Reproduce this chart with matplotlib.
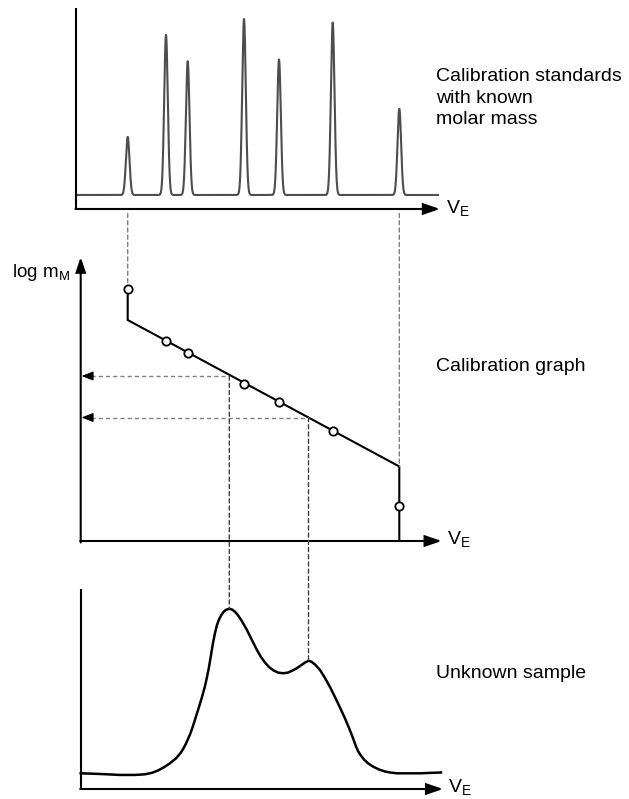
import numpy as np
import matplotlib
matplotlib.use("Agg")
import matplotlib.pyplot as plt
from matplotlib.patches import ConnectionPatch

plt.rcParams['font.family'] = ['Liberation Sans', 'DejaVu Sans']
plt.rcParams['mathtext.fontset'] = 'custom'
plt.rcParams['mathtext.rm'] = 'Liberation Sans'
plt.rcParams['mathtext.it'] = 'Liberation Sans:italic'

# ---- data -------------------------------------------------------------
# calibration standards: elution volume, relative peak height, log molar mass
std_ve = [4.70, 8.53, 10.70, 16.33, 19.83, 25.20, 31.86]
std_height = [33, 91, 76, 100, 77, 98, 49]
std_logm = [7.04, 6.00, 5.77, 5.15, 4.78, 4.20, 2.71]
peak_sigma = 0.18

# calibration graph: exclusion limit, linear range, total permeation limit
calib_ve = [4.70, 4.70, 31.86, 31.86]
calib_logm = [7.04, 6.42, 3.49, 2.00]

# elution profile of the unknown sample
sample_ve = [0.00, 1.93, 3.93, 5.43, 6.43, 7.13, 7.73, 8.33, 8.93, 9.53,
             10.03, 10.28, 10.53, 10.73, 10.93, 11.23, 11.53, 11.83, 12.13,
             12.43, 12.63, 12.83, 13.03, 13.23, 13.43, 13.63, 13.83, 14.03,
             14.28, 14.53, 14.86, 15.13, 15.43, 15.73, 16.08, 16.60, 17.10,
             17.60, 18.03, 18.43, 18.83, 19.26, 19.73, 20.26, 20.73, 21.13,
             21.60, 22.03, 22.43, 22.78, 23.08, 23.43, 23.93, 24.43, 24.93,
             25.43, 25.93, 26.43, 26.83, 27.13, 27.33, 27.53, 27.73, 27.98,
             28.33, 28.73, 29.26, 29.83, 30.43, 31.03, 31.63, 33.93, 36.03]
sample_signal = [0.0, -0.4, -1.0, -1.0, -0.6, 0.3, 1.7, 3.7, 6.1, 9.1,
                 12.7, 15.2, 18.1, 20.9, 23.6, 28.8, 34.6, 40.4, 46.4,
                 53.1, 58.6, 64.7, 72.0, 79.3, 85.4, 90.3, 93.6, 96.0,
                 98.2, 99.5, 100.2, 99.7, 98.3, 96.2, 93.0, 87.5, 81.4,
                 75.3, 70.8, 67.4, 64.7, 62.7, 61.3, 60.9, 61.3, 62.4,
                 63.9, 65.7, 67.4, 68.5, 67.9, 66.2, 62.9, 58.0, 52.5,
                 46.4, 40.0, 33.4, 27.6, 23.0, 19.7, 16.3, 13.6, 11.1,
                 8.4, 6.1, 4.0, 2.3, 1.1, 0.4, 0.0, 0.0, 0.5]

# sample peak maxima and the log molar mass
sample_peak_ve = [14.86, 22.78]
sample_peak_signal = [100.2, 68.5]
sample_peak_logm = [5.30, 4.47]

# ---- layout -----------------------------------------------------------
W, H = 629, 799
fig = plt.figure(figsize=(W / 100, H / 100), dpi=100)
XLIM = (-8.07, 54.83)


def panel(top, bottom, ylim):
    ax = fig.add_axes([0, 1 - bottom / H, 1, (bottom - top) / H])
    ax.set_xlim(*XLIM)
    ax.set_ylim(*ylim)
    ax.set_axis_off()
    return ax


def arrow(ax, start, end, lw=1.5, hl=1.0, hw=0.34):
    ax.annotate('', xy=end, xytext=start, annotation_clip=False,
                arrowprops=dict(arrowstyle=f'-|>,head_length={hl},head_width={hw}',
                                lw=lw, color='black', shrinkA=0, shrinkB=0,
                                mutation_scale=10, joinstyle='miter'))


ax_top = panel(0, 230, (-19.89, 110.80))
ax_mid = panel(235, 560, (1.62, 8.12))
ax_bot = panel(565, 799, (-15.64, 126.78))

# ---- calibration standards chromatogram -------------------------------
v = np.linspace(-0.47, 35.73, 4000)
trace = np.zeros_like(v)
for c, h in zip(std_ve, std_height):
    trace += h * np.exp(-0.5 * ((v - c) / peak_sigma) ** 2)
ax_top.plot(v, trace, color='#4d4d4d', lw=1.5, solid_joinstyle='round')
ax_top.plot([-0.47, -0.47], [-7.95, 106.25], color='black', lw=1.5,
            solid_capstyle='butt')
arrow(ax_top, (-0.47 - 0.05, -7.95), (35.93, -7.95))

# ---- calibration graph ------------------------------------------------
ax_mid.plot(calib_ve, calib_logm, color='black', lw=1.5,
            solid_joinstyle='miter')
ax_mid.plot(std_ve, std_logm, 'o', ms=6, mfc='white', mec='black', mew=1.3,
            zorder=5)
arrow(ax_mid, (0, 2.0 - 0.03), (0, 7.68), hl=0.9, hw=0.3)
arrow(ax_mid, (-0.05, 2.0), (36.1, 2.0))

dash = (0, (3.0, 2.2))
for ve, lm in zip(sample_peak_ve, sample_peak_logm):
    ax_mid.plot([1.0, ve], [lm, lm], color='#808080', lw=1.0, linestyle=dash)
    arrow(ax_mid, (1.05, lm), (0.08, lm), lw=0.8, hl=0.72, hw=0.28)

# ---- unknown sample -----------------------------------------------------
ax_bot.plot(sample_ve, sample_signal, color='black', lw=1.8,
            solid_joinstyle='round')
ax_bot.plot([0, 0], [-9.56, 112.2], color='black', lw=1.5,
            solid_capstyle='butt')
arrow(ax_bot, (-0.05, -9.56), (36.24, -9.56))

# ---- guide lines between the panels ----------------------------------
for i in (0, -1):
    end = calib_logm[0] + 0.08 if i == 0 else calib_logm[2]
    con = ConnectionPatch(xyA=(std_ve[i], -10.5), coordsA=ax_top.transData,
                          xyB=(std_ve[i], end), coordsB=ax_mid.transData,
                          color='#808080', lw=1.0, linestyle=dash)
    fig.add_artist(con)

for ve, lm, s in zip(sample_peak_ve, sample_peak_logm, sample_peak_signal):
    con = ConnectionPatch(xyA=(ve, lm), coordsA=ax_mid.transData,
                          xyB=(ve, s), coordsB=ax_bot.transData,
                          color='#404040', lw=1.0, linestyle=dash)
    fig.add_artist(con)

# ---- labels -------------------------------------------------------------
def fx(px):
    return px / W


def fy(py):
    return 1 - py / H


FS = 14
fig.text(fx(436.5), fy(124.3), 'Calibration standards\nwith known\nmolar mass',
         fontsize=FS, va='baseline', ha='left', linespacing=1.36)
fig.text(fx(436.5), fy(370.7), 'Calibration graph', fontsize=FS,
         va='baseline', ha='left')
fig.text(fx(436.5), fy(678.3), 'Unknown sample', fontsize=FS,
         va='baseline', ha='left')
fig.text(fx(70), fy(276.7), r'log m$_\mathrm{M}$', fontsize=13.5,
         va='baseline', ha='right')
for xpx, ypx in ((446.5, 213), (446.7, 544), (448, 792)):
    fig.text(fx(xpx), fy(ypx), r'V$_\mathrm{E}$', fontsize=FS,
             va='baseline', ha='left')

fig.savefig('out.png', dpi=100, facecolor='white')
